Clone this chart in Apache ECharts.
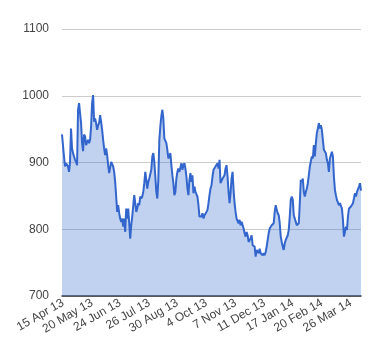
<!DOCTYPE html>
<html>
<head>
<meta charset="utf-8">
<script src="https://cdn.jsdelivr.net/npm/echarts@6/dist/echarts.min.js"></script>
<style>
html,body{margin:0;padding:0;background:#fff;}
#chart{width:380px;height:360px;}
</style>
</head>
<body>
<div id="chart"></div>
<script>
// Daily closing values, earliest first
const values = [
942,944,909,894,899,901,894,886,901,951,921,914,909,904,901,896,979,989,974,959,
929,917,942,939,926,924,934,929,934,954,989,1001,961,966,959,949,956,959,971,961,
949,934,921,911,921,911,896,884,886,901,901,894,886,871,849,826,836,824,816,811,
816,804,816,796,831,816,831,809,786,806,819,821,851,839,826,831,839,836,849,846,
849,856,869,886,874,861,871,876,876,889,909,914,901,879,856,846,874,934,954,969,
979,966,936,934,929,919,906,909,914,896,881,869,851,856,876,886,891,886,884,899,
889,896,899,891,879,861,851,874,884,871,881,854,864,856,854,849,836,819,
821,819,824,816,821,819,826,829,839,851,861,866,879,889,891,894,896,899,891,904,
869,869,876,874,881,891,896,879,856,839,854,876,886,859,839,826,816,814,809,814,
806,811,809,801,794,789,796,791,781,779,786,791,776,776,774,759,769,769,764,771,
764,766,761,764,761,766,774,784,794,801,799,806,804,809,826,836,829,824,821,809,
789,781,774,769,779,784,786,791,799,819,844,849,844,821,821,811,806,804,809,839,
874,871,876,856,849,856,861,869,881,894,896,909,906,926,909,929,944,951,959,951,
956,949,934,919,921,914,904,899,886,906,911,916,909,879,859,851,844,846,836,839,
841,831,814,789,796,804,799,819,831,829,834,836,839,839,854,849,856,856,864,869,
858
];
// Axis tick labels and the data index each one sits on
const tickLabels = ['15 Apr 13','20 May 13','24 Jun 13','26 Jul 13','30 Aug 13','4 Oct 13','7 Nov 13','11 Dec 13','17 Jan 14','20 Feb 14','26 Mar 14'];
const tickIndex = [1,30,58,87,115,144,173,202,230,259,288];

const categories = values.map(() => '');
tickIndex.forEach((idx, k) => { categories[idx] = tickLabels[k]; });

const chart = echarts.init(document.getElementById('chart'), null, {renderer: 'canvas'});
chart.setOption({
  animation: false,
  backgroundColor: '#ffffff',
  grid: {left: 62, right: 19, top: 29, bottom: 64, containLabel: false},
  xAxis: {
    type: 'category',
    data: categories,
    boundaryGap: false,
    axisLine: {show: true, lineStyle: {color: '#333333', width: 1.5}},
    axisTick: {show: false},
    splitLine: {show: false},
    axisLabel: {
      interval: (i, v) => v !== '',
      rotate: 30,
      margin: 6,
      fontFamily: 'Liberation Sans, Arial, sans-serif',
      fontSize: 12,
      color: '#444444'
    }
  },
  yAxis: {
    type: 'value',
    min: 700,
    max: 1100,
    interval: 100,
    axisLine: {show: false},
    axisTick: {show: false},
    splitLine: {lineStyle: {color: '#cccccc', width: 1}},
    axisLabel: {
      margin: 13,
      formatter: (v) => String(v),
      fontFamily: 'Liberation Sans, Arial, sans-serif',
      fontSize: 12,
      color: '#444444'
    }
  },
  series: [{
    type: 'line',
    data: values,
    symbol: 'none',
    smooth: false,
    lineStyle: {color: '#3366cc', width: 2},
    areaStyle: {color: '#3366cc', opacity: 0.3}
  }]
});
</script>
</body>
</html>
